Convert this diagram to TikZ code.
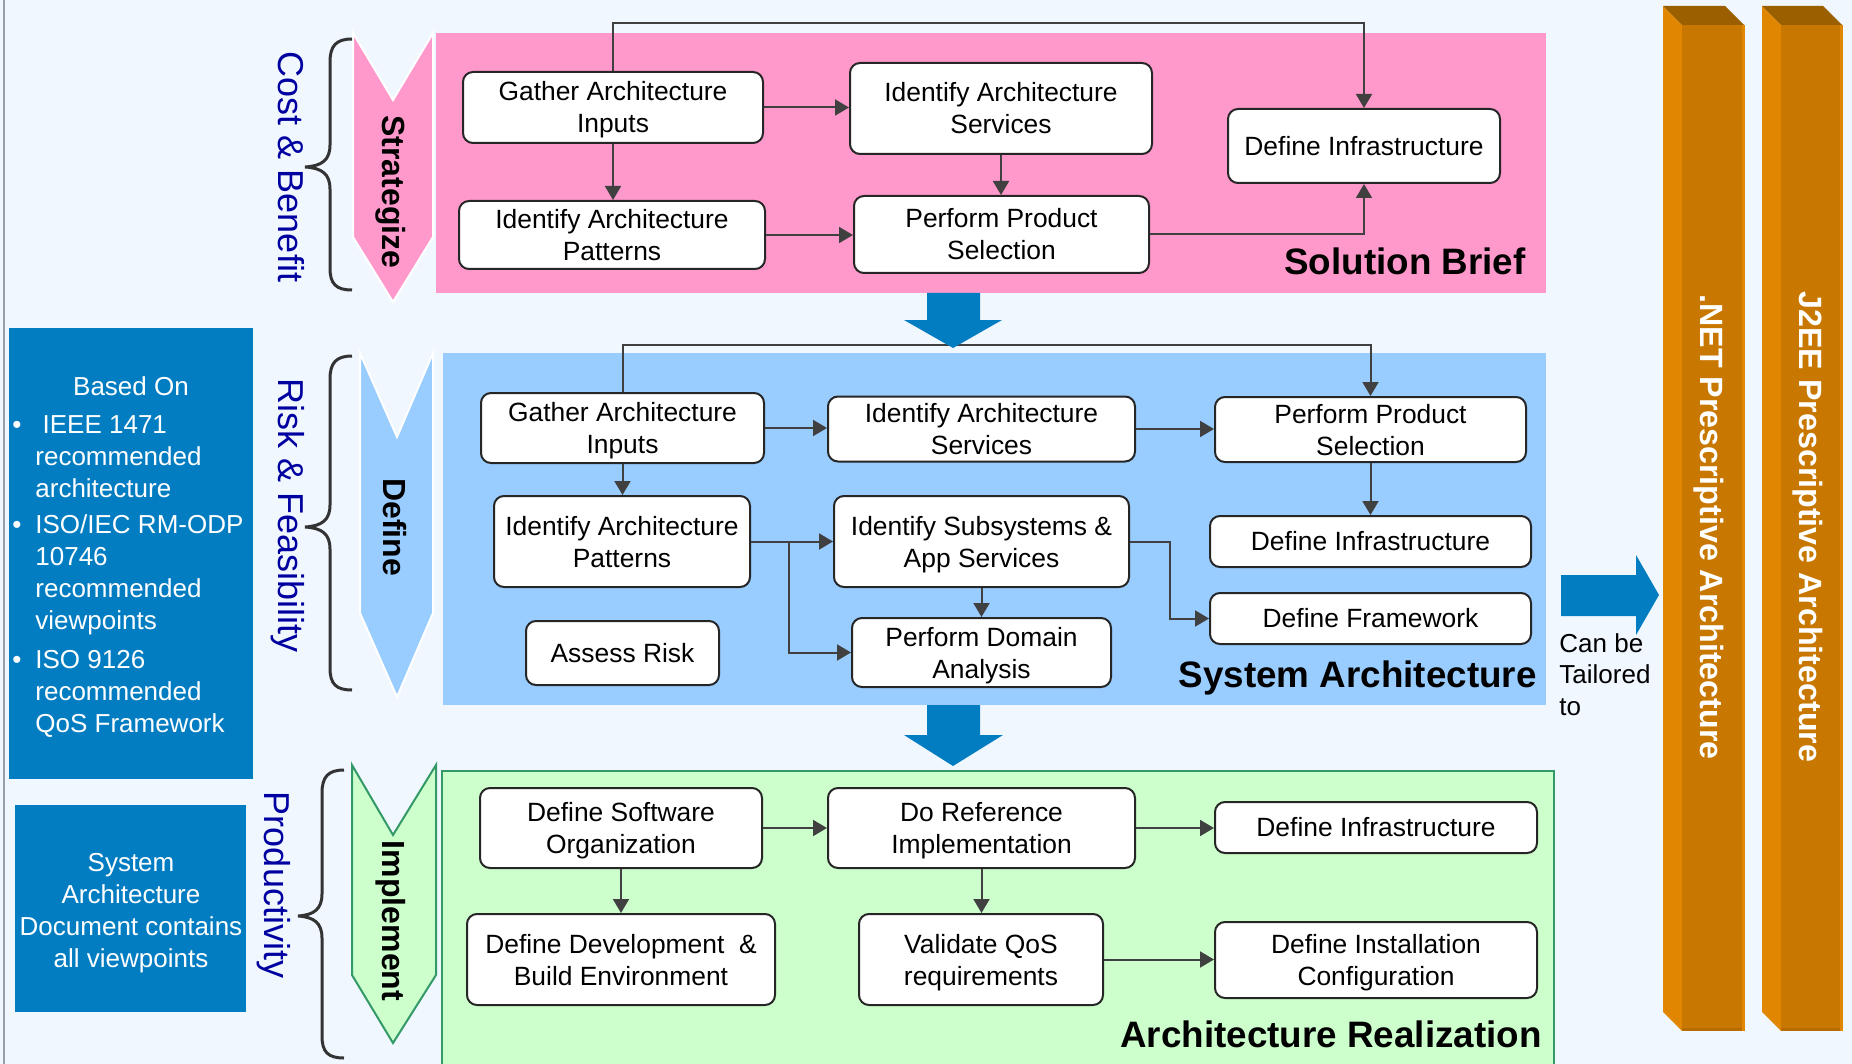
\documentclass[tikz,border=0pt]{standalone}
\usepackage{fontspec}
\setmainfont{Liberation Sans}
\usetikzlibrary{arrows.meta}

\definecolor{bgcol}{RGB}{240,247,255}
\definecolor{edgegray}{RGB}{150,160,170}
\definecolor{pinkfill}{RGB}{255,153,204}
\definecolor{bluefill}{RGB}{153,204,255}
\definecolor{greenfill}{RGB}{204,255,204}
\definecolor{greenline}{RGB}{51,153,102}
\definecolor{deepblue}{RGB}{3,125,194}
\definecolor{navytext}{RGB}{0,0,160}
\definecolor{linegray}{RGB}{64,64,64}
\definecolor{bracegray}{RGB}{51,51,51}
\definecolor{orangefront}{RGB}{200,120,0}
\definecolor{orangeside}{RGB}{224,134,0}
\definecolor{orangetop}{RGB}{156,95,0}
\definecolor{orangefoot}{RGB}{184,108,0}

% struts giving every two-line box label the same height and depth
\newcommand{\hb}{\rule{0pt}{13pt}}
\newcommand{\db}{\rule[-3.5pt]{0pt}{3.5pt}}

\tikzset{
  stepbox/.style={draw=black!85, line width=1pt, fill=white, rounded corners=5pt,
    align=center, inner sep=0pt, font=\fontsize{13.2}{16}\selectfont},
  conn/.style={draw=linegray, line width=1pt, -{Triangle[length=7pt,width=8pt]}},
  sidelabel/.style={rotate=-90, anchor=base, text=navytext, inner sep=0pt,
    font=\fontsize{18}{20}\selectfont},
  phaselabel/.style={rotate=-90, anchor=base, inner sep=0pt,
    font=\bfseries\fontsize{16}{18}\selectfont},
  sectitle/.style={anchor=base east, inner sep=0pt,
    font=\bfseries\fontsize{18.4}{20}\selectfont},
  pillarlabel/.style={rotate=-90, anchor=base, inner sep=0pt, text=white,
    font=\bfseries\fontsize{16.1}{18}\selectfont},
  bracepath/.style={draw=bracegray, line width=1.5pt},
  bigarrow/.style={fill=deepblue},
  infobox/.style={fill=deepblue, inner sep=0pt},
  infotext/.style={text=white, inner sep=0pt, font=\fontsize{13}{16}\selectfont}
}

\begin{document}
\begin{tikzpicture}[x=0.5pt,y=-0.5pt]
\useasboundingbox (0,0) rectangle (1852,1064);
\clip (0,0) rectangle (1852,1064);
\fill[bgcol] (0,0) rectangle (1852,1064);
\draw[edgegray, line width=1.2pt] (4,0) -- (4,1064);

% ---------- section panels ----------
\fill[pinkfill] (436,33) rectangle (1546,293);
\fill[bluefill] (443,353) rectangle (1546,705);
\filldraw[fill=greenfill, draw=greenline, line width=1pt] (442,771) rectangle (1554,1080);

% ---------- phase chevrons ----------
\filldraw[fill=pinkfill, draw=white, line width=1pt]
  (353,33) -- (393,100) -- (433,33) -- (433,237) -- (393,302) -- (353,237) -- cycle;
\filldraw[fill=bluefill, draw=white, line width=1pt]
  (360,353) -- (397,437) -- (433,353) -- (433,613) -- (397,697) -- (360,613) -- cycle;
\filldraw[fill=greenfill, draw=greenline, line width=1pt]
  (352,765) -- (393,835) -- (436,765) -- (436,975) -- (393,1043) -- (352,975) -- cycle;

\node[phaselabel] (phStrat) at (382,192) {Strategize};
\node[phaselabel] (phDefine) at (383,527) {Define};
\node[phaselabel] (phImpl) at (382,921) {Implement};

% ---------- braces and their labels ----------
\draw[bracepath] (352,39) .. controls (336,39) and (330,46) .. (330,62) -- (330,145)
  .. controls (330,160) and (322,166) .. (305,167)
  .. controls (322,168) and (330,174) .. (330,189) -- (330,268)
  .. controls (330,284) and (336,290) .. (352,290);
\draw[bracepath] (352,356) .. controls (336,356) and (330,363) .. (330,379) -- (330,505)
  .. controls (330,520) and (322,526) .. (305,527)
  .. controls (322,528) and (330,534) .. (330,549) -- (330,668)
  .. controls (330,684) and (336,690) .. (352,690);
\draw[bracepath] (344,770) .. controls (328,770) and (322,777) .. (322,793) -- (322,894)
  .. controls (322,909) and (314,915) .. (298,916)
  .. controls (314,917) and (322,923) .. (322,938) -- (322,1036)
  .. controls (322,1052) and (328,1058) .. (344,1058);

\node[sidelabel] (lblCost) at (278,167) {Cost \& Benefit};
\node[sidelabel] (lblRisk) at (278,516) {Risk \& Feasibility};
\node[sidelabel] (lblProd) at (264,885) {Productivity};

% ---------- left information boxes ----------
\fill[infobox] (9,328) rectangle (253,779);
\fill[infobox] (15,805) rectangle (246,1012);
\node[infotext, anchor=base] (basedOn) at (131,395) {Based On};
\node[infotext, anchor=base west] (basedList) at (12,433) {%
  \begin{tabular}[t]{@{}p{11.5pt}@{}l@{}}
  \textbullet & \ IEEE 1471\\
   & recommended\\
   & architecture\\[2pt]
  \textbullet & ISO/IEC RM-ODP\\
   & 10746\\
   & recommended\\
   & viewpoints\\[3.5pt]
  \textbullet & ISO 9126\\
   & recommended\\
   & QoS Framework
  \end{tabular}};
\node[infotext, anchor=base] (docNote) at (131,871) {%
  \begin{tabular}[t]{@{}c@{}}
  System\\ Architecture\\ Document contains\\ all viewpoints
  \end{tabular}};

% ---------- Solution Brief ----------
\node[stepbox, minimum width=150pt, minimum height=35.5pt] (pGather) at (613,107.5) {\hb Gather Architecture\\Inputs\db};
\node[stepbox, minimum width=151pt, minimum height=45.5pt] (pServ) at (1001,108.5) {\hb Identify Architecture\\Services\db};
\node[stepbox, minimum width=136pt, minimum height=37pt] (pInfra) at (1364,146) {Define Infrastructure};
\node[stepbox, minimum width=153pt, minimum height=34pt] (pPatt) at (612,235) {\hb Identify Architecture\\Patterns\db};
\node[stepbox, minimum width=147.5pt, minimum height=38.5pt] (pProd) at (1001.5,234.5) {\hb Perform Product\\Selection\db};
\node[sectitle] (tSolution) at (1526,275) {Solution Brief};

\draw[conn] (pGather.east) -- (pGather.east -| pServ.west);
\draw[conn] (pGather.south) -- (pGather.south |- pPatt.north);
\draw[conn] (pServ.south) -- (pServ.south |- pProd.north);
\draw[conn] (pPatt.east) -- (pPatt.east -| pProd.west);
\draw[conn] (pGather.north) -- ++(0,-48) -| (pInfra.north);
\draw[conn] (pProd.east) -| (pInfra.south);

% ---------- System Architecture ----------
\node[stepbox, minimum width=141.5pt, minimum height=35pt] (bGather) at (622.5,428) {\hb Gather Architecture\\Inputs\db};
\node[stepbox, minimum width=153.5pt, minimum height=32pt] (bServ) at (981.5,429) {\hb Identify Architecture\\Services\db};
\node[stepbox, minimum width=155.5pt, minimum height=32.5pt] (bProd) at (1370.5,429.5) {\hb Perform Product\\Selection\db};
\node[stepbox, minimum width=128pt, minimum height=45.5pt] (bPatt) at (622,541.5) {\hb Identify Architecture\\Patterns\db};
\node[stepbox, minimum width=147.5pt, minimum height=45.5pt] (bSub) at (981.5,541.5) {\hb Identify Subsystems \&\\App Services\db};
\node[stepbox, minimum width=160.5pt, minimum height=25.5pt] (bInfra) at (1370.5,541.5) {Define Infrastructure};
\node[stepbox, minimum width=160.5pt, minimum height=25.5pt] (bFrame) at (1370.5,618.5) {Define Framework};
\node[stepbox, minimum width=96.5pt, minimum height=32pt] (bRisk) at (622.5,653) {Assess Risk};
\node[stepbox, minimum width=129.5pt, minimum height=34.5pt] (bDomain) at (981.5,652.5) {\hb Perform Domain\\Analysis\db};
\node[sectitle] (tSystem) at (1537,687) {System Architecture};

\draw[conn] (bGather.east) -- (bGather.east -| bServ.west);
\draw[conn] (bServ.east) -- (bServ.east -| bProd.west);
\draw[conn] (bGather.south) -- (bGather.south |- bPatt.north);
\draw[conn] (bGather.north) -- ++(0,-47) -| (bProd.north);
\draw[conn] (bProd.south) -- (bProd.south |- bInfra.north);
\draw[conn] (bPatt.east) -- (bPatt.east -| bSub.west);
\coordinate (bSplit) at (789,541.5);
\draw[conn] (bSplit) |- (bDomain.west);
\draw[conn] (bSub.south) -- (bSub.south |- bDomain.north);
\draw[conn] (bSub.east) -- ++(40,0) |- (bFrame.west);

% ---------- Architecture Realization ----------
\node[stepbox, minimum width=141pt, minimum height=40pt] (gSoft) at (621,828) {\hb Define Software\\Organization\db};
\node[stepbox, minimum width=153.5pt, minimum height=40pt] (gRef) at (981.5,828) {\hb Do Reference\\Implementation\db};
\node[stepbox, minimum width=161pt, minimum height=25.5pt] (gInfra) at (1376,827.5) {Define Infrastructure};
\node[stepbox, minimum width=154pt, minimum height=45.5pt] (gDev) at (621,959.5) {\hb Define Development\ \ \&\\Build Environment\db};
\node[stepbox, minimum width=122pt, minimum height=45.5pt] (gVal) at (981,959.5) {\hb Validate QoS\\requirements\db};
\node[stepbox, minimum width=161pt, minimum height=38pt] (gInst) at (1376,960) {\hb Define Installation\\Configuration\db};
\node[sectitle] (tReal) at (1542,1047) {Architecture Realization};

\draw[conn] (gSoft.east) -- (gSoft.east -| gRef.west);
\draw[conn] (gRef.east) -- (gRef.east -| gInfra.west);
\draw[conn] (gSoft.south) -- (gSoft.south |- gDev.north);
\draw[conn] (gRef.south) -- (gRef.south |- gVal.north);
\draw[conn] (gVal.east) -- (gVal.east -| gInst.west);

% ---------- flow arrows between sections ----------
\fill[bigarrow] (927,293) -- (980,293) -- (980,320) -- (1002,320) -- (953,348)
  -- (904,320) -- (927,320) -- cycle;
\fill[bigarrow] (927,705) -- (980,705) -- (980,735) -- (1003,735) -- (953,766)
  -- (904,735) -- (927,735) -- cycle;
\fill[bigarrow] (1561,575) -- (1636,575) -- (1636,555) -- (1659,595) -- (1636,635)
  -- (1636,616) -- (1561,616) -- cycle;
\node[anchor=base west, inner sep=0pt, font=\fontsize{13}{15.75}\selectfont] (tailorNote) at (1559,652) {%
  \begin{tabular}[t]{@{}l@{}}Can be\\ Tailored\\ to\end{tabular}};

% ---------- platform pillars ----------
\fill[orangeside] (1663,6) -- (1682,25) -- (1682,1031) -- (1663,1012) -- cycle;
\fill[orangefront] (1682,25) rectangle (1744,1031);
\fill[orangefoot] (1682,1028) rectangle (1744,1031);
\fill[orangeside] (1742,25) rectangle (1745,1031);
\fill[orangetop] (1663,6) -- (1725,6) -- (1744,25) -- (1682,25) -- cycle;
\fill[orangeside] (1762,6) -- (1781,25) -- (1781,1031) -- (1762,1012) -- cycle;
\fill[orangefront] (1781,25) rectangle (1842,1031);
\fill[orangefoot] (1781,1028) rectangle (1842,1031);
\fill[orangeside] (1840,25) rectangle (1843,1031);
\fill[orangetop] (1762,6) -- (1823,6) -- (1842,25) -- (1781,25) -- cycle;
\node[pillarlabel] (netLbl) at (1700,527) {.NET Prescriptive Architecture};
\node[pillarlabel] (j2eeLbl) at (1799,527) {J2EE Prescriptive Architecture};
\end{tikzpicture}
\end{document}
